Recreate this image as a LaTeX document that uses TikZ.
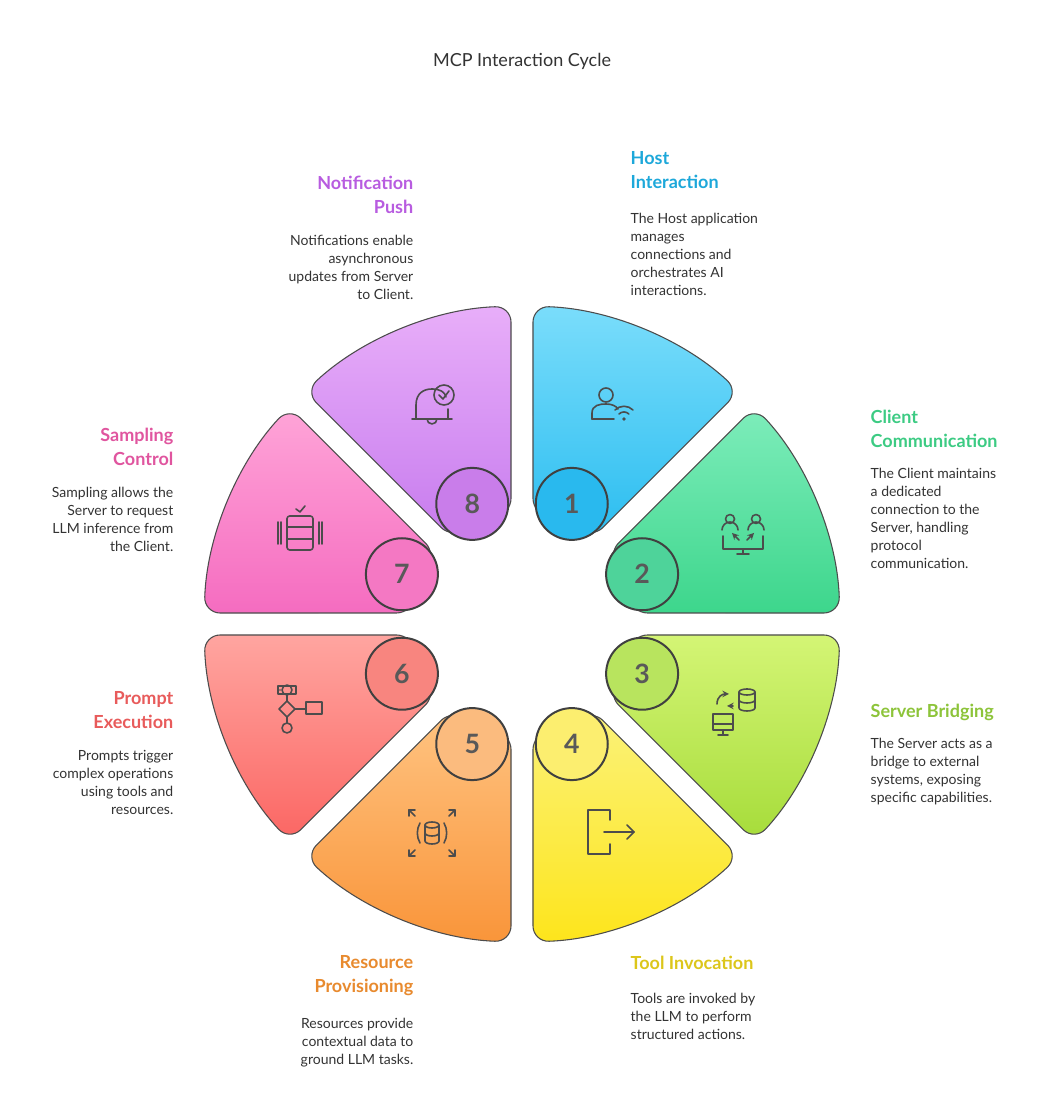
\documentclass[tikz,border=0pt]{standalone}
\usepackage{fontspec}
\setmainfont{Lato}
\begin{document}
\begin{tikzpicture}[x=0.75pt,y=0.75pt,
 ic/.style={line width=1.2pt,draw=black!70,line cap=round,line join=round},
 numc/.style={circle,minimum size=54pt,draw=black!75,line width=1.5pt,font=\bfseries\fontsize{20}{20}\selectfont,text=black!65},
 head/.style={font=\bfseries\fontsize{13.5}{18}\selectfont},
 body/.style={font=\fontsize{10.5}{13.5}\selectfont,text=black!80}]
\useasboundingbox[fill=white] (0,0) rectangle (1044,1116);
\definecolor{c1a}{HTML}{7ADDFB}\definecolor{c1b}{HTML}{2BBDF0}\definecolor{c1n}{HTML}{29B9EE}\definecolor{c1h}{HTML}{1DA8DA}
\definecolor{c2a}{HTML}{7EEDBB}\definecolor{c2b}{HTML}{3DD68C}\definecolor{c2n}{HTML}{4ED39A}\definecolor{c2h}{HTML}{3CCB83}
\definecolor{c3a}{HTML}{D4F575}\definecolor{c3b}{HTML}{A6DC3A}\definecolor{c3n}{HTML}{B8E45E}\definecolor{c3h}{HTML}{8DC43A}
\definecolor{c4a}{HTML}{FBF27A}\definecolor{c4b}{HTML}{FDE51C}\definecolor{c4n}{HTML}{FCEE6F}\definecolor{c4h}{HTML}{DCC61A}
\definecolor{c5a}{HTML}{FFC482}\definecolor{c5b}{HTML}{F9953A}\definecolor{c5n}{HTML}{FBBB7E}\definecolor{c5h}{HTML}{E88A2E}
\definecolor{c6a}{HTML}{FFA5A0}\definecolor{c6b}{HTML}{FB6663}\definecolor{c6n}{HTML}{F8857F}\definecolor{c6h}{HTML}{E85B5B}
\definecolor{c7a}{HTML}{FFA5D8}\definecolor{c7b}{HTML}{F56CC0}\definecolor{c7n}{HTML}{F478C3}\definecolor{c7h}{HTML}{E0559F}
\definecolor{c8a}{HTML}{E8AEF9}\definecolor{c8b}{HTML}{C77BEE}\definecolor{c8n}{HTML}{C97DEA}\definecolor{c8h}{HTML}{B85CE0}
\node[font=\fontsize{13.5}{16}\selectfont,text=black!80] (title) at (522,1055) {MCP Interaction Cycle};
\begin{scope}[shift={(522,492)}]
\foreach \k/\a in {1/45,2/0,3/-45,4/-90,5/-135,6/180,7/135,8/90}{
  \pgfmathsetmacro{\ao}{\a+1.98}\pgfmathsetmacro{\bo}{\a+45-1.98}
  \pgfmathsetmacro{\ai}{\a+5.74}\pgfmathsetmacro{\bi}{\a+45-5.74}
  \shade[top color=c\k a,bottom color=c\k b,draw=black!70,line width=0.8pt,rounded corners=12pt]
   (\ao:318) arc[start angle=\ao,end angle=\bo,radius=318] -- (\bi:110) arc[start angle=\bi,end angle=\ai,radius=110] -- cycle;
}
\foreach \k/\a in {1/67.5,2/22.5,3/-22.5,4/-67.5,5/-112.5,6/-157.5,7/157.5,8/112.5}{
  \node[numc,fill=c\k n] (n\k) at (\a:130) {\k};
}
\end{scope}
% icons
\begin{scope}[shift={(612,711)},ic]
\draw (-6,10) circle (7);
\draw (-20,-14) -- (-20,-8) .. controls (-20,0) and (-12,1) .. (-6,1) .. controls (0,1) and (4,-1) .. (6,-4);
\draw (-20,-14) -- (2,-14);
\fill[black!70] (12,-14) circle (1.8);
\draw (7,-9) arc[start angle=135,end angle=45,radius=7];
\draw (3,-5) arc[start angle=135,end angle=45,radius=12.7];
\end{scope}
\begin{scope}[shift={(743,583)},ic]
\draw (-13,14) circle (4.5); \draw (13,14) circle (4.5);
\draw (-21,3) arc[start angle=180,end angle=0,radius=8]; \draw (5,3) arc[start angle=180,end angle=0,radius=8];
\draw (-20,-3) -- (-20,-16) -- (20,-16) -- (20,-3);
\draw (0,-16) -- (0,-21); \draw (-6,-21) -- (6,-21);
\draw[->,>=stealth] (-4,-7) -- (-11,0); \draw[->,>=stealth] (4,-7) -- (11,0);
\end{scope}
\begin{scope}[shift={(733,404)},ic]
\draw (-20,-18) rectangle (0,-2); \draw (-20,-12) -- (0,-12); \draw (-10,-18) -- (-10,-23); \draw (-15,-23)--(-5,-23);
\draw (14,20) ellipse (8 and 3); \draw (6,20) -- (6,4) arc[start angle=180,end angle=360,x radius=8,y radius=3] -- (22,20);
\draw (6,12) arc[start angle=180,end angle=360,x radius=8,y radius=3];
\draw[->,>=stealth] (-16,8) .. controls (-16,16) and (-10,18) .. (-4,18);
\draw[->,>=stealth] (0,6) -- (-6,6);
\end{scope}
\begin{scope}[shift={(610,284)},ic]
\draw (0,-12) -- (0,-22) -- (-22,-22) -- (-22,22) -- (0,22) -- (0,12);
\draw (-6,0) -- (24,0); \draw (17,7) -- (24,0) -- (17,-7);
\end{scope}
\begin{scope}[shift={(432,283)},ic]
\draw (0,8) ellipse (7 and 3); \draw (-7,8) -- (-7,-8) arc[start angle=180,end angle=360,x radius=7,y radius=3] -- (7,8);
\draw (-7,0) arc[start angle=180,end angle=360,x radius=7,y radius=3];
\draw (-12,10) arc[start angle=150,end angle=210,radius=20]; \draw (12,10) arc[start angle=30,end angle=-30,radius=20];
\foreach \sx/\sy in {1/1,-1/1,1/-1,-1/-1}{
 \draw (17*\sx,17*\sy)--(23*\sx,23*\sy); \draw (17*\sx,23*\sy)--(23*\sx,23*\sy)--(23*\sx,17*\sy);}
\end{scope}
\begin{scope}[shift={(300,404)},ic]
\draw (-13,22) circle (5); \draw (-13,17) -- (-13,11) -- (-5,3) -- (-13,-5) -- (-21,3) -- (-13,11);
\draw (-13,-5) -- (-13,-11); \draw (-13,-16) circle (5);
\draw (-20,22) -- (-20,22); \draw (-22,26) rectangle (-4,18);
\draw (-5,3) -- (6,3); \draw (6,-2) rectangle (22,10);
\end{scope}
\begin{scope}[shift={(300,583)},ic]
\draw[rounded corners=2pt] (-13,-17) rectangle (13,17);
\draw (-13,-6) -- (13,-6); \draw (-13,6) -- (13,6);
\draw (-19,-11) -- (-19,11); \draw (-22,-11)--(-22,11); \draw (19,-11)--(19,11); \draw (22,-11)--(22,11);
\draw (-4,24) -- (0,21) -- (5,27);
\end{scope}
\begin{scope}[shift={(432,711)},ic]
\draw (-20,-14) -- (20,-14); \draw (-16,-14) -- (-16,0) .. controls (-16,12) and (-8,16) .. (0,16) .. controls (8,16) and (13,13) .. (14,8);
\draw (16,-4) -- (16,-14); \draw (-5,-14) arc[start angle=180,end angle=360,radius=5];
\draw (12,10) circle (10); \draw (7,10) -- (11,6) -- (17,14);
\end{scope}
% texts
\node[head,text=c1h,anchor=north west,align=left] (h1) at (626,969) {Host\\Interaction};
\node[body,anchor=north west,align=left] (b1) at (626,908) {The Host application\\manages\\connections and\\orchestrates AI\\interactions.};
\node[head,text=c2h,anchor=north west,align=left] (h2) at (866,711) {Client\\Communication};
\node[body,anchor=north west,align=left] (b2) at (866,653) {The Client maintains\\a dedicated\\connection to the\\Server, handling\\protocol\\communication.};
\node[head,text=c3h,anchor=north west,align=left] (h3) at (866,417) {Server Bridging};
\node[body,anchor=north west,align=left] (b3) at (866,383) {The Server acts as a\\bridge to external\\systems, exposing\\specific capabilities.};
\node[head,text=c4h,anchor=north west,align=left] (h4) at (626,165) {Tool Invocation};
\node[body,anchor=north west,align=left] (b4) at (626,128) {Tools are invoked by\\the LLM to perform\\structured actions.};
\node[head,text=c5h,anchor=north east,align=right] (h5) at (418,165) {Resource\\Provisioning};
\node[body,anchor=north east,align=right] (b5) at (418,103) {Resources provide\\contextual data to\\ground LLM tasks.};
\node[head,text=c6h,anchor=north east,align=right] (h6) at (178,429) {Prompt\\Execution};
\node[body,anchor=north east,align=right] (b6) at (178,370) {Prompts trigger\\complex operations\\using tools and\\resources.};
\node[head,text=c7h,anchor=north east,align=right] (h7) at (178,693) {Sampling\\Control};
\node[body,anchor=north east,align=right] (b7) at (178,634) {Sampling allows the\\Server to request\\LLM inference from\\the Client.};
\node[head,text=c8h,anchor=north east,align=right] (h8) at (418,945) {Notification\\Push};
\node[body,anchor=north east,align=right] (b8) at (418,886) {Notifications enable\\asynchronous\\updates from Server\\to Client.};
\end{tikzpicture}
\end{document}
